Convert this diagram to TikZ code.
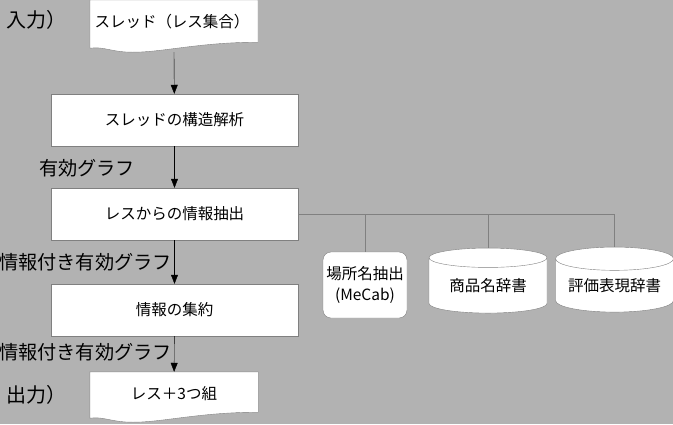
\documentclass[tikz,border=0pt]{standalone}
\usepackage{fontspec}
\setmainfont{Noto Sans CJK JP}
\definecolor{bggray}{RGB}{178,178,178}
\definecolor{edgegray}{RGB}{128,128,128}
\usetikzlibrary{arrows.meta,positioning,shapes.geometric}
\pgfdeclarelayer{bg}
\pgfsetlayers{bg,main}

\tikzset{
  stepbox/.style={draw=edgegray, fill=white, minimum width=247pt, minimum height=52pt,
                  inner sep=0pt, font=\fontsize{15.5}{18}\selectfont},
  docbox/.style={minimum width=168pt, minimum height=44pt, inner sep=0pt,
                 font=\fontsize{15.5}{18}\selectfont},
  docline/.style={draw=edgegray, fill=white},
  dictbox/.style={cylinder, shape border rotate=90, aspect=0.25, draw=edgegray, fill=white,
                  minimum width=118pt, minimum height=65pt, inner sep=0pt,
                  font=\fontsize{15.5}{18}\selectfont},
  toolbox/.style={draw=edgegray, fill=white, rounded corners=8pt, minimum width=84pt,
                  minimum height=66pt, inner sep=0pt, align=center,
                  font=\fontsize{15.5}{21}\selectfont},
  flowlabel/.style={anchor=west, inner sep=0pt, font=\fontsize{19.2}{20}\selectfont},
  iolabel/.style={anchor=west, inner sep=0pt, font=\fontsize{20}{20}\selectfont},
  flow/.style={-{Triangle[width=7pt,length=9pt]}, black},
  link/.style={draw=edgegray}
}

\begin{document}
\begin{tikzpicture}[x=1pt,y=-1pt]
  \useasboundingbox (0,0) rectangle (673,424);

  % input / output documents
  \node[docbox] (thread) at (172,22) {スレッド（レス集合）};
  \node[docbox] (triple) at (174,394) {レス＋3つ組};

  % processing steps
  \node[stepbox] (parse) at (174.5,120) {スレッドの構造解析};
  \node[stepbox] (extract) at (174.5,214) {レスからの情報抽出};
  \node[stepbox] (merge) at (174.5,310) {情報の集約};

  % resources
  \node[toolbox] (mecab) at (365,285) {場所名抽出\\(MeCab)};
  \node[dictbox] (product) at (488,285.5) {商品名辞書};
  \node[dictbox] (evaldict) at (614.5,285.5) {評価表現辞書};

  \node[iolabel] (inlabel) at (6,20) {入力）};
  \node[iolabel] (outlabel) at (6,395) {出力）};
  \node[flowlabel] (graph) at (39,168) {有効グラフ};
  \node[flowlabel] (igraph1) at (-1,262) {情報付き有効グラフ};
  \node[flowlabel] (igraph2) at (-1,352) {情報付き有効グラフ};

  \begin{pgfonlayer}{bg}
    \fill[bggray] (0,0) rectangle (673,424);
    \path[docline] ([xshift=-82pt]thread.north) -- ([xshift=86pt]thread.north)
      -- ([xshift=86pt,yshift=2pt]thread.south)
      .. controls +(-58,0) and +(30,0) .. ([xshift=-39pt,yshift=-8pt]thread.south)
      .. controls +(-22,0) and +(14,-2) .. ([xshift=-82pt,yshift=-4pt]thread.south) -- cycle;
    \path[docline] (triple.north west) -- (triple.north east)
      -- ([yshift=4pt]triple.south east)
      .. controls +(-58,0) and +(30,0) .. ([xshift=-41pt,yshift=-6pt]triple.south)
      .. controls +(-22,0) and +(14,-2) .. ([yshift=-2pt]triple.south west) -- cycle;
  \end{pgfonlayer}

  \draw[flow] ([xshift=2pt,yshift=-8pt]thread.south) -- (parse);
  \draw[flow] (parse) -- (extract);
  \draw[flow] (extract) -- (merge);
  \draw[flow] (merge) -- (triple);

  \draw[link] (extract.east) -| (evaldict.north);
  \draw[link] (extract.east -| mecab.north) -- (mecab.north);
  \draw[link] (extract.east -| product.north) -- (product.north);
\end{tikzpicture}
\end{document}
